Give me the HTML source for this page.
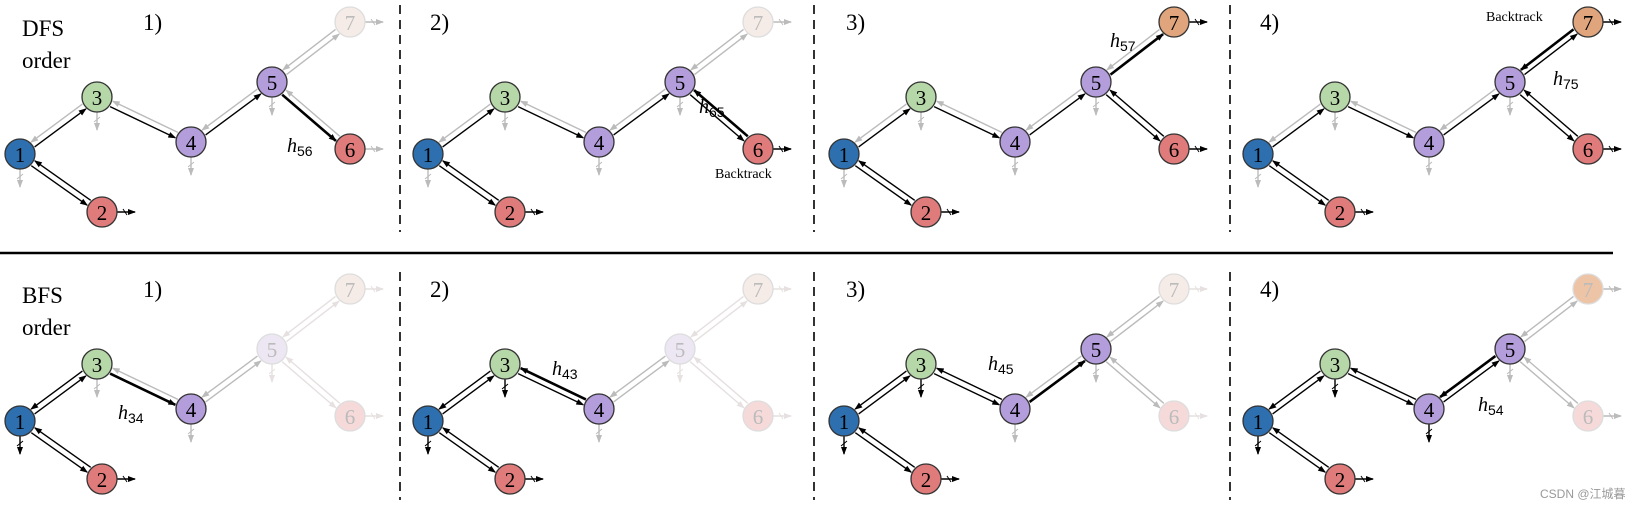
<!DOCTYPE html>
<html><head><meta charset="utf-8"><style>
html,body{margin:0;padding:0;background:#fff;}
svg{display:block;}
</style></head><body>
<svg id="s" width="1634" height="508" xmlns="http://www.w3.org/2000/svg" font-family="Liberation Serif, serif">
<defs>
<marker id="mk" markerWidth="8" markerHeight="8" refX="7" refY="4" orient="auto" markerUnits="userSpaceOnUse"><path d="M0,1 L8,4 L0,7 z" fill="#000"/></marker>
<marker id="mg" markerWidth="8" markerHeight="8" refX="7" refY="4" orient="auto" markerUnits="userSpaceOnUse"><path d="M0,1 L8,4 L0,7 z" fill="#bbb"/></marker>
<marker id="ml" markerWidth="8" markerHeight="8" refX="7" refY="4" orient="auto" markerUnits="userSpaceOnUse"><path d="M0,1 L8,4 L0,7 z" fill="#e6e0e0"/></marker>
</defs>
<line x1="0" y1="253" x2="1613" y2="253" stroke="#000" stroke-width="2.5"/>
<g stroke="#000" stroke-width="1.6" stroke-dasharray="9,6">
<line x1="400" y1="5" x2="400" y2="232"/><line x1="814" y1="5" x2="814" y2="232"/><line x1="1230" y1="5" x2="1230" y2="232"/>
<line x1="400" y1="272" x2="400" y2="500"/><line x1="814" y1="272" x2="814" y2="500"/><line x1="1230" y1="272" x2="1230" y2="500"/>
</g>
<text x="22" y="36" font-size="23">DFS</text><text x="22" y="68" font-size="23">order</text>
<text x="22" y="303" font-size="23">BFS</text><text x="22" y="335" font-size="23">order</text>
<text x="1540" y="498" font-size="12" fill="#999" font-family="Liberation Sans, Noto Sans CJK SC, sans-serif">CSDN @江城暮</text>
<g id="g"></g>
</svg>
<script>
var N={1:[20,154],2:[102,212],3:[97,97],4:[191,142],5:[272,82],6:[350,149],7:[350,22]};
var R=15;
var cols={b:'#2e6fb0',r:'#e07b7b',g:'#b6d7a8',p:'#b39ddb',o:'#e0a57c',f7:'#f6ece7',f5:'#ede7f4',f6:'#f6dada',fo:'#edc4a6'};
var out='';
function arr(x1,y1,x2,y2,c,w){
 var col=c=='k'||c=='K'?'#000':(c=='l'?'#e6e0e0':'#bbb');
 var m=c=='k'||c=='K'?'mk':(c=='l'?'ml':'mg');
 out+='<line x1="'+x1.toFixed(1)+'" y1="'+y1.toFixed(1)+'" x2="'+x2.toFixed(1)+'" y2="'+y2.toFixed(1)+'" stroke="'+col+'" stroke-width="'+(c=='K'?2.6:1.4)+'" marker-end="url(#'+m+')"/>';
}
function edge(ox,oy,a,b,c){
 if(c=='n')return;
 var A=N[a],B=N[b];var dx=B[0]-A[0],dy=B[1]-A[1],L=Math.hypot(dx,dy);var ux=dx/L,uy=dy/L;
 var px=-uy*3,py=ux*3;
 arr(ox+A[0]+ux*(R+1)+px,oy+A[1]+uy*(R+1)+py,ox+B[0]-ux*(R+1)+px,oy+B[1]-uy*(R+1)+py,c);
}
function down(ox,oy,n,c){var P=N[n];arr(ox+P[0],oy+P[1]+R,ox+P[0],oy+P[1]+R+18,c);
 out+='<line x1="'+(ox+P[0]-3)+'" y1="'+(oy+P[1]+R+10)+'" x2="'+(ox+P[0]+3)+'" y2="'+(oy+P[1]+R+5)+'" stroke="'+(c=='k'?'#000':c=='l'?'#e6e0e0':'#bbb')+'" stroke-width="1"/>';}
function right(ox,oy,n,c){var P=N[n];arr(ox+P[0]+R,oy+P[1],ox+P[0]+R+18,oy+P[1],c);
 out+='<line x1="'+(ox+P[0]+R+6)+'" y1="'+(oy+P[1]-3)+'" x2="'+(ox+P[0]+R+10)+'" y2="'+(oy+P[1]+3)+'" stroke="'+(c=='k'?'#000':c=='l'?'#e6e0e0':'#bbb')+'" stroke-width="1"/>';}
function node(ox,oy,n,fill,faded){var P=N[n];
 out+='<circle cx="'+(ox+P[0])+'" cy="'+(oy+P[1])+'" r="'+R+'" fill="'+fill+'" stroke="'+(faded?'#ddd':'#333')+'" stroke-width="1.3"/>';
 out+='<text x="'+(ox+P[0])+'" y="'+(oy+P[1]+8)+'" font-size="21" text-anchor="middle" fill="'+(faded?'#bbb':'#000')+'">'+n+'</text>';}
function hl(ox,oy,x,y,s){out+='<text x="'+(ox+x)+'" y="'+(oy+y)+'" font-size="20" font-style="italic">h<tspan font-size="14" font-style="normal" font-family="Liberation Sans, sans-serif" dy="4">'+s+'</tspan></text>';}
function panel(ox,oy,lab,lx,E,D,Rt,C,F,h){
 out+='<text x="'+(ox+lx)+'" y="'+(oy+30)+'" font-size="23">'+lab+'</text>';
 var pairs=[[1,3],[1,2],[3,4],[4,5],[5,6],[5,7]];
 pairs.forEach(function(p,i){edge(ox,oy,p[0],p[1],E[i][0]);edge(ox,oy,p[1],p[0],E[i][1]);});
 for(var k in D)down(ox,oy,k,D[k]);
 for(var k in Rt)right(ox,oy,k,Rt[k]);
 for(var n=1;n<=7;n++)node(ox,oy,n,C[n],F.indexOf(n)>=0);
 hl(ox,oy,h[0],h[1],h[2]);
}
var Cd={1:cols.b,2:cols.r,3:cols.g,4:cols.p,5:cols.p,6:cols.r,7:cols.f7};
var Cd3={1:cols.b,2:cols.r,3:cols.g,4:cols.p,5:cols.p,6:cols.r,7:cols.o};
var gD={1:'g',3:'g',4:'g',5:'g'};
// DFS
panel(0,0,'1)',143,['kg','kk','kg','kg','Kg','gg'],gD,{2:'k',6:'g',7:'g'},Cd,[7],[287,152,'56']);
panel(408,0,'2)',22,['kg','kk','kg','kg','kK','gg'],gD,{2:'k',6:'k',7:'g'},Cd,[7],[291,113,'65']);
out+='<text x="'+(408+307)+'" y="178" font-size="14">Backtrack</text>';
panel(824,0,'3)',22,['kg','kk','kg','kg','kk','Kg'],gD,{2:'k',6:'k',7:'k'},Cd3,[],[286,47,'57']);
panel(1238,0,'4)',22,['kg','kk','kg','kg','kk','kK'],gD,{2:'k',6:'k',7:'k'},Cd3,[],[315,85,'75']);
out+='<text x="'+(1238+248)+'" y="21" font-size="14">Backtrack</text>';
// BFS
var oy=267;
var Cb1={1:cols.b,2:cols.r,3:cols.g,4:cols.p,5:cols.f5,6:cols.f6,7:cols.f7};
var Cb3={1:cols.b,2:cols.r,3:cols.g,4:cols.p,5:cols.p,6:cols.f6,7:cols.f7};
var Cb4={1:cols.b,2:cols.r,3:cols.g,4:cols.p,5:cols.p,6:cols.f6,7:cols.fo};
panel(0,oy,'1)',143,['kk','kk','Kg','gg','ll','ll'],{1:'k',3:'g',4:'g',5:'l'},{2:'k',6:'l',7:'l'},Cb1,[5,6,7],[118,152,'34']);
panel(408,oy,'2)',22,['kk','kk','kK','gg','ll','ll'],{1:'k',3:'k',4:'g',5:'l'},{2:'k',6:'l',7:'l'},Cb1,[5,6,7],[144,108,'43']);
panel(824,oy,'3)',22,['kk','kk','kk','Kg','gg','gg'],{1:'k',3:'k',4:'g',5:'g'},{2:'k',6:'l',7:'l'},Cb3,[6,7],[164,103,'45']);
panel(1238,oy,'4)',22,['kk','kk','kk','kK','gg','gg'],{1:'k',3:'k',4:'k',5:'g'},{2:'k',6:'g',7:'g'},Cb4,[6,7],[240,144,'54']);
document.getElementById('g').innerHTML=out;
</script>
</body></html>
